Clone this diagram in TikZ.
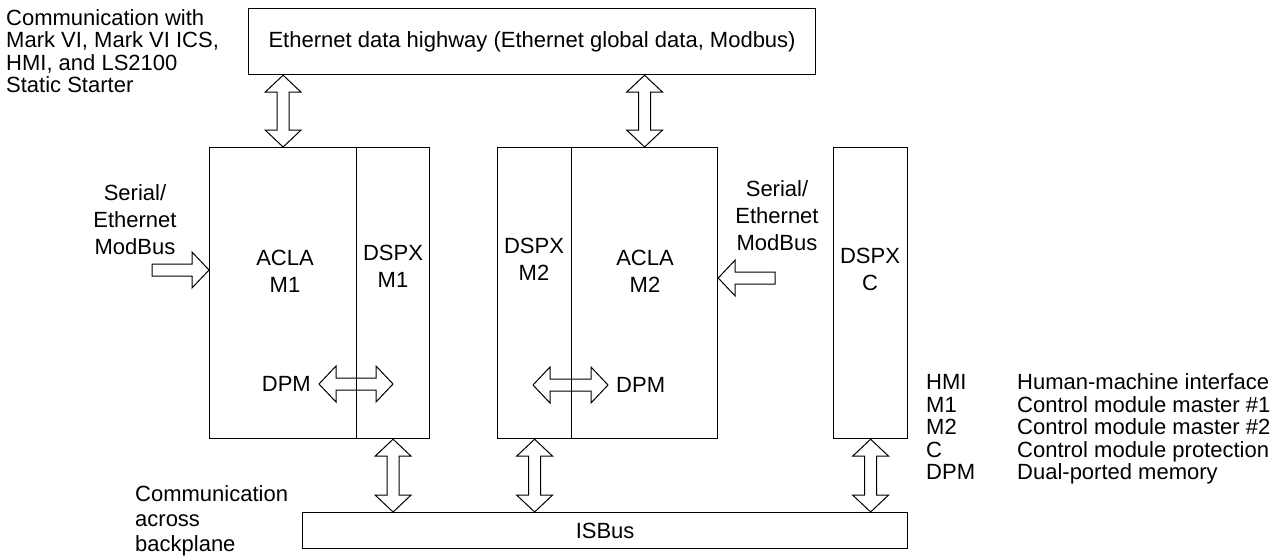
\documentclass[tikz,border=0pt]{standalone}
\usepackage{fontspec}
\setmainfont{Liberation Sans}
\usetikzlibrary{calc,positioning}
\tikzset{
	box/.style={draw,line width=1.2pt,inner sep=0pt,anchor=north west},
	txt/.style={inner sep=0pt,align=center},
	fatboth/.style={line width=1pt,to path={
		let \p1=(\tikztostart),\p2=(\tikztotarget),
		\n1={veclen(\x2-\x1,\y2-\y1)},\n2={(\x2-\x1)/\n1},\n3={(\y2-\y1)/\n1} in
		(\p1) -- ({\x1+17*\n2-18*\n3},{\y1+17*\n3+18*\n2})
		-- ({\x1+17*\n2-6*\n3},{\y1+17*\n3+6*\n2})
		-- ({\x2-17*\n2-6*\n3},{\y2-17*\n3+6*\n2})
		-- ({\x2-17*\n2-18*\n3},{\y2-17*\n3+18*\n2})
		-- (\p2)
		-- ({\x2-17*\n2+18*\n3},{\y2-17*\n3-18*\n2})
		-- ({\x2-17*\n2+6*\n3},{\y2-17*\n3-6*\n2})
		-- ({\x1+17*\n2+6*\n3},{\y1+17*\n3-6*\n2})
		-- ({\x1+17*\n2+18*\n3},{\y1+17*\n3-18*\n2})
		-- cycle}},
	fatone/.style={line width=1pt,to path={
		let \p1=(\tikztostart),\p2=(\tikztotarget),
		\n1={veclen(\x2-\x1,\y2-\y1)},\n2={(\x2-\x1)/\n1},\n3={(\y2-\y1)/\n1} in
		({\x1-6*\n3},{\y1+6*\n2})
		-- ({\x2-17*\n2-6*\n3},{\y2-17*\n3+6*\n2})
		-- ({\x2-17*\n2-18*\n3},{\y2-17*\n3+18*\n2})
		-- (\p2)
		-- ({\x2-17*\n2+18*\n3},{\y2-17*\n3-18*\n2})
		-- ({\x2-17*\n2+6*\n3},{\y2-17*\n3-6*\n2})
		-- ({\x1+6*\n3},{\y1-6*\n2})
		-- cycle}},
}
\begin{document}
\begin{tikzpicture}[x=1pt,y=-1pt,font=\fontsize{22}{27}\selectfont]
	\useasboundingbox (0,0) rectangle (1283,558);
	\node[box,minimum width=567pt,minimum height=66pt] (eth) at (248,8) {Ethernet data highway (Ethernet global data, Modbus)};
	\node[box,minimum width=147pt,minimum height=291pt] (acla1) at (209,147) {};
	\node[box,minimum width=73pt,minimum height=291pt] (dspx1) at (356,147) {};
	\node[box,minimum width=74pt,minimum height=291pt] (dspx2) at (497,147) {};
	\node[box,minimum width=146pt,minimum height=291pt] (acla2) at (571,147) {};
	\node[box,minimum width=74pt,minimum height=291pt] (dspxc) at (833,147) {};
	\node[box,minimum width=605pt,minimum height=36pt] (isbus) at (302,512) {ISBus};
	\node[txt] (acla1t) at (285,271) {ACLA\\M1};
	\node[txt] (dspx1t) at (393,266) {DSPX\\M1};
	\node[txt] (dspx2t) at (534,259) {DSPX\\M2};
	\node[txt] (acla2t) at (645,271) {ACLA\\M2};
	\node[txt] (dspxct) at (870,269) {DSPX\\C};
	\draw[fatboth] (acla1.north |- eth.south) to (acla1.north);
	\draw[fatboth] (acla2.north |- eth.south) to (acla2.north);
	\draw[fatboth] (dspx1.south) to (dspx1.south |- isbus.north);
	\draw[fatboth] (dspx2.south) to (dspx2.south |- isbus.north);
	\draw[fatboth] (dspxc.south) to (dspxc.south |- isbus.north);
	\coordinate (dpm1a) at (319,384);
	\coordinate (dpm1b) at (393,384);
	\coordinate (dpm2a) at (533,385);
	\coordinate (dpm2b) at (608,385);
	\draw[fatboth] (dpm1a) to (dpm1b);
	\draw[fatboth] (dpm2a) to (dpm2b);
	\node[txt,left=8pt of dpm1a] (dpm1t) {DPM};
	\node[txt,right=8pt of dpm2b] (dpm2t) {DPM};
	\coordinate (ser1) at (152,270);
	\coordinate (ser2) at (775,278);
	\draw[fatone] (ser1) to (acla1.west |- ser1);
	\draw[fatone] (ser2) to (acla2.east |- ser2);
	\node[txt] (ser1t) at (135,220) {Serial/\\Ethernet\\ModBus};
	\node[txt] (ser2t) at (777,216) {Serial/\\Ethernet\\ModBus};
	\node[txt,align=left,anchor=west,font=\fontsize{22}{22.5}\selectfont] (comm) at (6,51) {Communication with\\Mark VI, Mark VI ICS,\\HMI, and LS2100\\Static Starter};
	\node[txt,align=left,anchor=west,font=\fontsize{22}{25}\selectfont] (bkp) at (135,521) {Communication\\across\\backplane};
	\node[txt,anchor=west,font=\fontsize{22}{21.5}\selectfont] (legend) at (926,430) {%
		\begin{tabular}{@{}p{91pt}@{}l@{}}
		HMI & Human-machine interface\\
		M1 & Control module master \#1\\
		M2 & Control module master \#2\\
		C & Control module protection\\
		DPM & Dual-ported memory
		\end{tabular}};
\end{tikzpicture}
\end{document}
